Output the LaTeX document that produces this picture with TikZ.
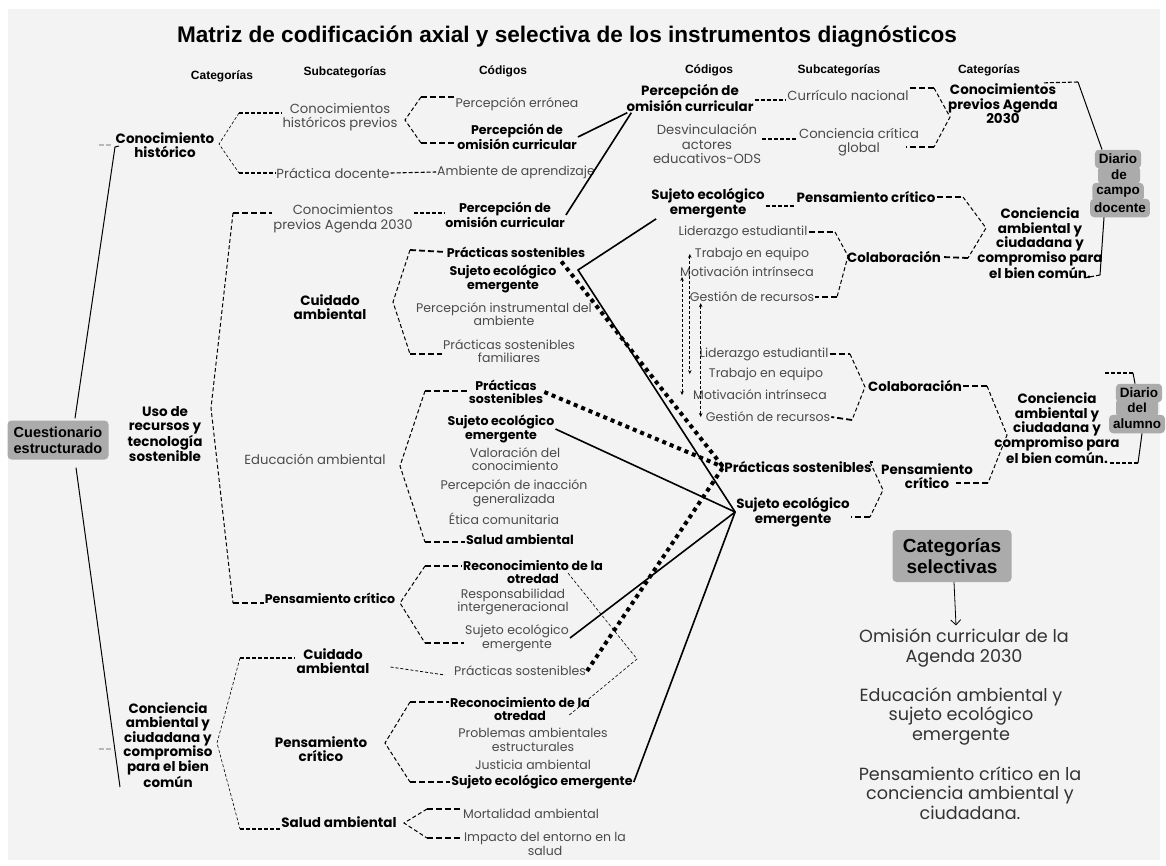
\documentclass[tikz,border=0pt]{standalone}
\usepackage{fontspec}
\setmainfont{Poppins}
\newfontfamily\arialfont{Liberation Sans}
\usetikzlibrary{arrows.meta,calc}
\definecolor{bggrey}{HTML}{F3F3F3}
\definecolor{boxgrey}{HTML}{ABABAB}
\definecolor{txtgrey}{HTML}{4A4A4A}
\definecolor{tickgrey}{HTML}{B8B8B8}

\begin{document}
\begin{tikzpicture}[x=1pt,y=-1pt]
    \tikzstyle{txt} = [font=\fontsize{12.5}{13.5}\selectfont, text=txtgrey, align=center, inner sep=1pt]
    \tikzstyle{subtxt} = [font=\fontsize{13.2}{14.5}\selectfont, text=txtgrey, align=center, inner sep=1pt]
    \tikzstyle{codebold} = [font=\bfseries\fontsize{12.6}{13.5}\selectfont, align=center, inner sep=1pt]
    \tikzstyle{codebig} = [font=\bfseries\fontsize{13.4}{14.5}\selectfont, align=center, inner sep=1pt]
    \tikzstyle{catnode} = [font=\bfseries\fontsize{13.5}{14.5}\selectfont, align=center, inner sep=1pt]
    \tikzstyle{colhead} = [font=\arialfont\bfseries\fontsize{12}{14}\selectfont, inner sep=1pt]
    \tikzstyle{greybox} = [fill=boxgrey, rounded corners=4pt, align=center, font=\arialfont\bfseries\fontsize{14.5}{16}\selectfont]
    \tikzstyle{diario} = [fill=boxgrey, rounded corners=4pt, inner xsep=4pt, inner ysep=0pt, minimum width=46pt, minimum height=18.5pt, font=\arialfont\bfseries\fontsize{13.5}{15}\selectfont]
    \tikzstyle{seltxt} = [font=\fontsize{17.6}{19.5}\selectfont, text=black!80, align=center]
    \tikzstyle{thinbrk} = [line width=0.6pt, dash pattern=on 3pt off 2pt]
    \tikzstyle{thinstub} = [line width=1.1pt, dash pattern=on 4pt off 2pt]
    \tikzstyle{brk} = [line width=1pt, dash pattern=on 4pt off 2.5pt]
    \tikzstyle{stub} = [line width=1.8pt, dash pattern=on 6pt off 3pt]
    \tikzstyle{trunk} = [line width=1pt]
    \tikzstyle{link} = [line width=1.6pt]
    \tikzstyle{dotlink} = [line width=4pt, dash pattern=on 4pt off 4pt]
    \tikzstyle{dblarrow} = [line width=0.6pt, dash pattern=on 3pt off 2pt, {Stealth[length=4pt,width=3.5pt]}-{Stealth[length=4pt,width=3.5pt]}]

    \useasboundingbox (0,0) rectangle (1166,865);
    \fill[bggrey] (8,9) rectangle (1160,860);

    % titles
    \node[font=\arialfont\bfseries\fontsize{22.6}{25}\selectfont] (title) at (567,37) {Matriz de codificación axial y selectiva de los instrumentos diagnósticos};
    \node[colhead] (hcat1) at (222,76) {Categorías};
    \node[colhead] (hsub1) at (345,72) {Subcategorías};
    \node[colhead] (hcod1) at (503,71) {Códigos};
    \node[colhead] (hcod2) at (709,70) {Códigos};
    \node[colhead] (hsub2) at (839,70) {Subcategorías};
    \node[colhead] (hcat2) at (989,70) {Categorías};

    % cuestionario
    \node[greybox, minimum width=101, minimum height=39] (cuest) at (58,440) {Cuestionario\\estructurado};
    \node[catnode] (ch) at (165,145) {Conocimiento\\histórico};
    \node[catnode] (uso) at (165,434) {Uso de\\recursos y\\tecnología\\sostenible};
    \node[catnode] (conc) at (168,745) {Conciencia\\ambiental y\\ciudadana y\\compromiso\\para el bien\\común};
    \coordinate (ttop) at (115,147);
    \coordinate (tbot) at (120,787);
    \draw[trunk] ([xshift=17pt,yshift=2pt]cuest.north) -- (ttop) -- ++(4,-1);
    \draw[trunk] ([xshift=18pt,yshift=-8pt]cuest.south) -- (tbot);
    \draw[tickgrey, line width=1.2pt, dash pattern=on 5pt off 2pt] (ttop) ++(-4,-2) -- ++(-14,0);
    \draw[tickgrey, line width=1.2pt, dash pattern=on 5pt off 2pt] (tbot) ++(-9,-38) -- ++(-14,0);

    % conocimiento historico
    \node[subtxt] (chp) at (340,117) {Conocimientos\\históricos previos};
    \node[subtxt] (pd) at (333,173) {Práctica docente};
    \node[txt] (amb) at (516,172) {Ambiente de aprendizaje};
    \node[txt] (pe) at (517,104) {Percepción errónea};
    \node[codebold] (poc1) at (517,137) {Percepción de\\omisión curricular};
    \draw[thinbrk] (239,113) -- (219,144) -- (239,173);
    \draw[thinstub] (239,113) -- ([yshift=4pt]chp.west);
    \draw[thinstub] (239,173) -- (pd.west);
    \draw[thinstub] (pd.east) -- (amb.west);
    \draw[brk] (421,97) -- (405,120) -- (421,143);
    \draw[stub] (421,97) -- ([yshift=7pt]pe.west);
    \draw[stub] (421,143) -- ([yshift=-6pt]poc1.west);

    % uso de recursos
    \node[subtxt] (cpa) at (343,219) {Conocimientos\\previos Agenda 2030};
    \node[codebold] (poc2) at (505,215) {Percepción de\\omisión curricular};
    \node[catnode] (cuid1) at (330,307) {Cuidado\\ambiental};
    \node[subtxt] (edu) at (315,459) {Educación ambiental};
    \node[codebold] (pc1) at (330,598) {Pensamiento crítico};
    \draw[brk] (233,213) -- (211,408) -- (233,603);
    \draw[stub] (233,213) -- ([yshift=6pt]cpa.west);
    \draw[stub] (233,603) -- ([yshift=-5pt]pc1.west);
    \draw[thinstub] ([yshift=6pt]cpa.east) -- ([yshift=2pt]poc2.west);

    \node[codebold] (ps1) at (516,252) {Prácticas sostenibles};
    \node[codebold] (sej1) at (503,279) {Sujeto ecológico\\emergente};
    \node[txt] (pia) at (504,314) {Percepción instrumental del\\ambiente};
    \node[txt] (psf) at (509,351) {Prácticas sostenibles\\familiares};
    \draw[brk] (410,250) -- (393,302) -- (410,354);
    \draw[stub] (410,250) -- (ps1.west);
    \draw[stub] (410,354) -- ([yshift=-3pt]psf.west);

    \node[codebold] (ps2) at (506,392) {Prácticas\\sostenibles};
    \node[codebold] (sej2) at (501,429) {Sujeto ecológico\\emergente};
    \node[txt] (vc) at (515,459) {Valoración del\\conocimiento};
    \node[txt] (pig) at (514,493) {Percepción de inacción\\generalizada};
    \node[txt] (ec) at (504,519) {Ética comunitaria};
    \node[codebold] (sa) at (520,539) {Salud ambiental};
    \draw[brk] (425,391) -- (400,466) -- (425,542);
    \draw[stub] (425,391) -- ([yshift=1pt]ps2.west);
    \draw[stub] (425,542) -- ([yshift=-3pt]sa.west);

    \node[codebold] (ro1) at (533,572) {Reconocimiento de la\\otredad};
    \node[txt] (ri) at (513,602) {Responsabilidad\\intergeneracional};
    \node[txt] (sej3) at (517,638) {Sujeto ecológico\\emergente};
    \draw[brk] (425,566) -- (400,603) -- (425,643);
    \draw[stub] (425,566) -- ([yshift=6pt]ro1.west);
    \draw[stub] (425,643) -- ([yshift=-5pt]sej3.west);

    % conciencia ambiental
    \node[catnode] (cuid2) at (333,661) {Cuidado\\ambiental};
    \node[catnode] (pc2) at (321,749) {Pensamiento\\crítico};
    \node[catnode] (sal) at (339,822) {Salud ambiental};
    \node[txt] (ps3) at (520,671) {Prácticas sostenibles};
    \draw[thinbrk] (240,658) -- (217,743) -- (240,829);
    \draw[thinstub] (240,658) -- ([yshift=3pt]cuid2.west);
    \draw[thinstub] (240,829) -- ([yshift=-7pt]sal.west);
    \draw[thinbrk, line width=0.8pt] ([xshift=20pt,yshift=-6pt]cuid2.east) -- ([xshift=-8pt,yshift=-4pt]ps3.west);

    \node[codebold] (ro2) at (520,709) {Reconocimiento de la\\otredad};
    \node[txt] (pae) at (533,740) {Problemas ambientales\\estructurales};
    \node[txt] (ja) at (533,765) {Justicia ambiental};
    \node[codebold] (sej4) at (542,782) {Sujeto ecológico emergente};
    \draw[brk] (410,702) -- (385,743) -- (410,782);
    \draw[stub] (410,702) -- ([yshift=7pt]ro2.west);
    \draw[stub] (410,782) -- (sej4.west);

    \node[txt] (ma) at (531,814) {Mortalidad ambiental};
    \node[txt] (ie) at (545,844) {Impacto del entorno en la\\salud};
    \draw[brk] (427,809) -- (404,823) -- (427,838);
    \draw[stub] (427,809) -- ([yshift=5pt]ma.west);
    \draw[stub] (427,838) -- ([yshift=6pt]ie.west);

    \draw[thinbrk] ([xshift=35pt,yshift=12pt]ro1.south) -- (637,659) -- ([xshift=48pt,yshift=6pt]ro2.south);

    % diario de campo docente
    \node[codebig] (poc3) at (690,98) {Percepción de\\omisión curricular};
    \node[subtxt] (desv) at (707,144) {Desvinculación\\actores\\educativos-ODS};
    \node[subtxt] (cn) at (848,95) {Currículo nacional};
    \node[subtxt] (ccg) at (859,142) {Conciencia crítica\\global};
    \node[catnode] (cpa2) at (1003,104) {Conocimientos\\previos Agenda\\2030};
    \draw[thinstub] ([yshift=-2pt]poc3.east) -- ([yshift=-5pt]cn.west);
    \draw[thinstub] ([yshift=5pt]desv.east) -- ([yshift=3pt]ccg.west);
    \draw[stub] ([yshift=7pt]cn.east) -- (934,88);
    \draw[brk] (934,88) -- (950,117) -- (934,147);
    \draw[stub] (934,147) -- ([xshift=-14pt,yshift=-5pt]ccg.east);

    \node[diario] (dd4) at (1120,208) {docente};
    \node[diario] (dd3) at (1118,192) {campo};
    \node[diario, minimum width=42pt] (dd2) at (1119,175) {de};
    \node[diario] (dd1) at (1118,159) {Diario};
    \draw[thinstub] ([xshift=-15pt]cpa2.north east) -- (1078,82);
    \draw[trunk] (1078,82) -- ([xshift=-16pt]dd1.north);
    \draw[trunk] ([xshift=-16pt]dd4.south) -- (1100,275);
    \draw[thinstub] (1100,275) -- (1084,278);

    \node[codebig] (sej5) at (708,203) {Sujeto ecológico\\emergente};
    \node[codebig] (pc3) at (866,197) {Pensamiento crítico};
    \draw[thinstub] ([yshift=-3pt]sej5.east) -- ([yshift=-9pt]pc3.west);
    \node[txt] (le1) at (743,232) {Liderazgo estudiantil};
    \node[txt] (te1) at (752,254) {Trabajo en equipo};
    \node[txt] (mi1) at (747,272) {Motivación intrínseca};
    \node[txt] (gr1) at (752,297) {Gestión de recursos};
    \node[codebig] (col1) at (894,257) {Colaboración};
    \node[catnode] (cab1) at (1040,243) {Conciencia\\ambiental y\\ciudadana y\\compromiso para\\el bien común.};
    \draw[stub] (le1.east) -- (835,232);
    \draw[brk] (835,232) -- (848,256) -- (837,297);
    \draw[stub] (837,297) -- (gr1.east);
    \draw[stub] (pc3.east) -- (963,197);
    \draw[brk] (963,197) -- (986,228) -- (968,258);
    \draw[stub] (968,258) -- (col1.east);

    % diario del alumno
    \node[txt] (le2) at (764,354) {Liderazgo estudiantil};
    \node[txt] (te2) at (766,374) {Trabajo en equipo};
    \node[txt] (mi2) at (760,395) {Motivación intrínseca};
    \node[txt] (gr2) at (768,417) {Gestión de recursos};
    \node[codebig] (col2) at (915,386) {Colaboración};
    \node[codebig] (ps4) at (798,467) {Prácticas sostenibles};
    \node[codebig] (hub) at (793,512) {Sujeto ecológico\\emergente};
    \node[codebig] (pc4) at (927,476) {Pensamiento\\crítico};
    \node[catnode] (cab2) at (1057,428) {Conciencia\\ambiental y\\ciudadana y\\compromiso para\\el bien común.};
    \draw[stub] (le2.east) -- (850,354);
    \draw[brk] (850,354) -- (865,387) -- (852,420);
    \draw[stub] (852,420) -- (gr2.east);
    \draw[stub] ([yshift=5pt]ps4.east) -- (870,462);
    \draw[brk] (870,462) -- (883,490) -- (870,517);
    \draw[stub] (870,517) -- ([yshift=-5pt]hub.east);
    \draw[stub] (col2.east) -- (987,386);
    \draw[brk] (987,386) -- (1007,435) -- (988,483);
    \draw[stub] (988,483) -- ([xshift=-18pt,yshift=-7pt]pc4.east);

    \node[diario] (da3) at (1137,424) {alumno};
    \node[diario, minimum width=42pt] (da2) at (1137,408) {del};
    \node[diario] (da1) at (1139,393) {Diario};
    \draw[thinstub] (1105,373) -- (1133,373);
    \draw[trunk] (1133,373) -- ([xshift=-4pt]da1.north);
    \draw[trunk] ([xshift=5pt]da3.south) -- (1138,463);
    \draw[thinstub] (1138,463) -- (1110,463);

    \draw[dblarrow] ([xshift=-4pt]te1.west) -- ($(te1.west |- te2.west)+(-4,0)$);
    \draw[dblarrow] ([xshift=3pt,yshift=-5pt]mi1.west) -- ($(mi1.west |- mi2.west)+(3,0)$);
    \draw[dblarrow] ([xshift=12pt]gr1.south west) -- ($(gr1.south west |- gr2.west)+(12,0)$);

    % axial links
    \coordinate (vx) at (578,270);
    \draw[link] (poc1.east) -- ([xshift=2pt]poc3.south west);
    \draw[link] (poc2.east) -- ([xshift=6pt]poc3.south west);
    \draw[link] ([xshift=6pt]sej5.south west) -- (vx) -- (hub.west);
    \draw[link] (sej2.east) -- (hub.west);
    \draw[link] (sej3.east) -- (hub.west);
    \draw[link] (sej4.east) -- (hub.west);
    \draw[dotlink] ([xshift=-25pt,yshift=-3pt]ps1.south east) -- (ps4.west);
    \draw[dotlink] (ps2.east) -- (ps4.west);
    \draw[dotlink] (ps3.east) -- (ps4.west);

    % categorias selectivas
    \node[greybox, font=\arialfont\bfseries\fontsize{19}{21}\selectfont, minimum width=119, minimum height=52] (catsel) at (952,556) {Categorías\\selectivas};
    \node[seltxt] (sel1) at (964,648) {Omisión curricular de la\\Agenda 2030};
    \node[seltxt] (sel2) at (961,716) {Educación ambiental y\\sujeto ecológico\\emergente};
    \node[seltxt] (sel3) at (970,793) {Pensamiento crítico en la\\conciencia ambiental y\\ciudadana.};
    \draw[-{Straight Barb[length=5pt,width=10pt]}, line width=0.8pt] ([xshift=2pt]catsel.south) -- ([xshift=-8pt]sel1.north);
\end{tikzpicture}
\end{document}
